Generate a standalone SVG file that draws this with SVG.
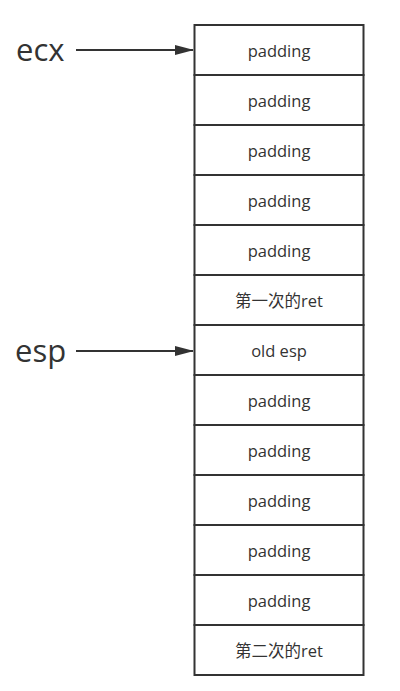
<svg xmlns="http://www.w3.org/2000/svg" width="400" height="691" viewBox="0 0 400 691">
<style>
.box{fill:#fff;stroke:#333;stroke-width:2}
.t{font-family:"Open Sans","Noto Sans CJK SC",sans-serif;font-size:16.5px;fill:#333;text-anchor:middle;dominant-baseline:central}
.lbl{font-family:"Open Sans","Noto Sans CJK SC",sans-serif;font-size:31px;fill:#333;dominant-baseline:central}
.c{stroke:#333;stroke-width:2;fill:none}
</style>
<defs>
<marker id="ah" markerWidth="19" markerHeight="12" refX="18" refY="6" orient="auto" markerUnits="userSpaceOnUse" viewBox="0 0 19 12"><path d="M0,1 L19,6 L0,11 Z" fill="#333"/></marker>
</defs>
<rect width="400" height="691" fill="#fff"/>
<g id="n1"><rect class="box" x="194.5" y="25" width="169" height="50"/><text class="t" x="279" y="50">padding</text></g>
<g id="n2"><rect class="box" x="194.5" y="75" width="169" height="50"/><text class="t" x="279" y="100">padding</text></g>
<g id="n3"><rect class="box" x="194.5" y="125" width="169" height="50"/><text class="t" x="279" y="150">padding</text></g>
<g id="n4"><rect class="box" x="194.5" y="175" width="169" height="50"/><text class="t" x="279" y="200">padding</text></g>
<g id="n5"><rect class="box" x="194.5" y="225" width="169" height="50"/><text class="t" x="279" y="250">padding</text></g>
<g id="n6"><rect class="box" x="194.5" y="275" width="169" height="50"/><text class="t" x="279" y="300">第一次的ret</text></g>
<g id="n7"><rect class="box" x="194.5" y="325" width="169" height="50"/><text class="t" x="279" y="350">old esp</text></g>
<g id="n8"><rect class="box" x="194.5" y="375" width="169" height="50"/><text class="t" x="279" y="400">padding</text></g>
<g id="n9"><rect class="box" x="194.5" y="425" width="169" height="50"/><text class="t" x="279" y="450">padding</text></g>
<g id="n10"><rect class="box" x="194.5" y="475" width="169" height="50"/><text class="t" x="279" y="500">padding</text></g>
<g id="n11"><rect class="box" x="194.5" y="525" width="169" height="50"/><text class="t" x="279" y="550">padding</text></g>
<g id="n12"><rect class="box" x="194.5" y="575" width="169" height="50"/><text class="t" x="279" y="600">padding</text></g>
<g id="n13"><rect class="box" x="194.5" y="625" width="169" height="50"/><text class="t" x="279" y="650">第二次的ret</text></g>
<g id="ecx"><text class="lbl" x="16" y="49">ecx</text></g>
<g id="esp"><text class="lbl" x="15" y="350">esp</text></g>
<g id="connectors">
<line class="c" x1="76" y1="50" x2="193" y2="50" marker-end="url(#ah)"/>
<line class="c" x1="76" y1="351" x2="193" y2="351" marker-end="url(#ah)"/>
</g>
</svg>
